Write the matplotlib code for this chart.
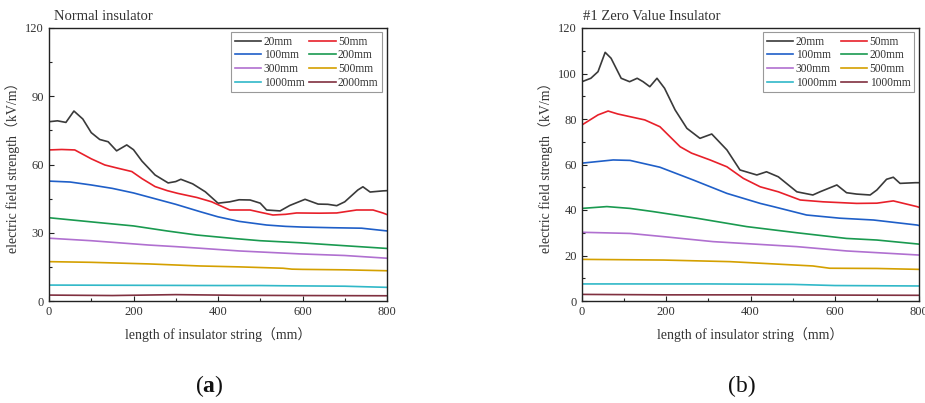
import matplotlib
matplotlib.use("Agg")
import matplotlib.pyplot as plt
from matplotlib.ticker import MultipleLocator

plt.rcParams['font.family'] = ['Liberation Serif', 'Noto Sans CJK SC']
plt.rcParams['mathtext.fontset'] = 'custom'
plt.rcParams['mathtext.rm'] = 'Liberation Serif'
plt.rcParams['mathtext.bf'] = 'Liberation Serif:bold'

labels_a = ["20mm", "50mm", "100mm", "200mm", "300mm", "500mm", "1000mm", "2000mm"]
labels_b = ["20mm", "50mm", "100mm", "200mm", "300mm", "500mm", "1000mm", "1000mm"]
colors = ['#3a3a3a', '#e8202a', '#1f5fc8', '#1a9a50', '#b070d0', '#d4a000', '#30b8c8', '#803040']

# ---- (a) Normal insulator ----
a20_x = [0, 20, 40, 59, 80, 100, 120, 140, 160, 184, 200, 220, 251, 282, 300, 312, 340, 370, 400, 428, 450, 476, 500, 515, 547, 570, 606, 637, 660, 681, 700, 731, 743, 760, 790, 800]
a20_y = [78.8, 79.2, 78.5, 83.5, 80, 74, 71, 70, 66, 68.6, 66.5, 61.5, 55.4, 51.9, 52.5, 53.5, 51.5, 48, 43, 43.6, 44.5, 44.4, 43, 40, 39.6, 42, 44.7, 42.6, 42.5, 41.9, 43.6, 48.8, 50.2, 47.9, 48.4, 48.5]
a50_x = [0, 30, 61, 100, 132, 160, 196, 220, 251, 280, 305, 350, 385, 428, 476, 500, 530, 560, 586, 640, 681, 728, 767, 790, 800]
a50_y = [66.4, 66.6, 66.4, 62.5, 59.8, 58.5, 56.9, 53.8, 50.3, 48.5, 47.3, 45.5, 43.6, 40, 40, 39, 37.8, 38.1, 38.7, 38.6, 38.7, 40, 40, 38.7, 38]
a100_x = [0, 50, 100, 150, 200, 250, 300, 357, 400, 450, 515, 560, 600, 673, 740, 795, 800]
a100_y = [52.7, 52.3, 51, 49.5, 47.5, 45, 42.5, 39.3, 37, 35, 33.4, 32.8, 32.5, 32.2, 32, 30.9, 30.8]
a200_x = [0, 121, 200, 279, 350, 436, 500, 594, 700, 800]
a200_y = [36.6, 34.4, 33, 30.8, 29, 27.5, 26.5, 25.6, 24.3, 23.1]
a300_x = [0, 100, 236, 300, 357, 450, 594, 700, 800]
a300_y = [27.6, 26.5, 24.6, 23.9, 23.2, 22, 20.7, 20, 18.8]
a500_x = [0, 100, 236, 357, 450, 554, 575, 600, 700, 800]
a500_y = [17.3, 17, 16.3, 15.4, 15, 14.4, 14.0, 13.9, 13.7, 13.3]
a1000_x = [0, 200, 400, 500, 550, 700, 800]
a1000_y = [7.0, 6.9, 6.8, 6.8, 6.7, 6.5, 6.0]
a2000_x = [0, 150, 300, 450, 600, 800]
a2000_y = [2.6, 2.4, 2.8, 2.5, 2.4, 2.3]

# ---- (b) #1 Zero Value Insulator ----
b20_x = [0, 21, 38, 55, 69, 93, 113, 131, 145, 161, 178, 196, 221, 249, 280, 308, 344, 375, 415, 438, 466, 510, 548, 565, 605, 628, 652, 684, 700, 723, 739, 755, 791, 800]
b20_y = [96.4, 97.9, 100.8, 109.3, 106.7, 97.9, 96.4, 97.9, 96.4, 94.2, 97.9, 93.5, 84, 75.9, 71.5, 73.4, 66.4, 57.6, 55.4, 56.8, 54.6, 48, 46.6, 48, 51, 47.6, 47, 46.6, 48.8, 53.5, 54.4, 51.7, 52, 52]
b50_x = [0, 38, 62, 85, 149, 185, 233, 260, 304, 344, 383, 423, 466, 518, 572, 652, 700, 739, 795, 800]
b50_y = [77.4, 81.8, 83.5, 82.2, 79.6, 76.6, 67.8, 65, 62, 59, 53.9, 50.2, 48, 44.4, 43.6, 42.9, 43, 44, 41.5, 41.2]
b100_x = [0, 74, 114, 185, 264, 344, 423, 454, 533, 612, 692, 795, 800]
b100_y = [60.6, 62, 61.8, 58.8, 53.2, 47.3, 42.9, 41.5, 37.8, 36.4, 35.6, 33.4, 33.2]
b200_x = [0, 59, 114, 169, 272, 391, 510, 628, 700, 800]
b200_y = [40.7, 41.5, 40.7, 39.3, 36.4, 32.7, 30, 27.5, 26.8, 25]
b300_x = [0, 114, 193, 311, 510, 628, 800]
b300_y = [30.2, 29.7, 28.3, 26.1, 23.9, 22, 20.2]
b500_x = [0, 193, 351, 548, 588, 700, 800]
b500_y = [18.3, 18, 17.3, 15.4, 14.4, 14.3, 13.9]
b1000_x = [0, 300, 500, 600, 800]
b1000_y = [7.5, 7.5, 7.3, 6.8, 6.6]
b1000b_x = [0, 200, 400, 600, 800]
b1000b_y = [2.9, 2.7, 2.7, 2.6, 2.5]

series_a = [(a20_x, a20_y), (a50_x, a50_y), (a100_x, a100_y), (a200_x, a200_y),
            (a300_x, a300_y), (a500_x, a500_y), (a1000_x, a1000_y), (a2000_x, a2000_y)]
series_b = [(b20_x, b20_y), (b50_x, b50_y), (b100_x, b100_y), (b200_x, b200_y),
            (b300_x, b300_y), (b500_x, b500_y), (b1000_x, b1000_y), (b1000b_x, b1000b_y)]

fig = plt.figure(figsize=(9.25, 4.03), dpi=100)
ax_a = fig.add_axes([49/925, 102/403, 338/925, 273/403])
ax_b = fig.add_axes([582/925, 102/403, 337/925, 273/403])

text_col = '#333333'

def style(ax, title, ymajor, yminor, labels, series, title_x):
    lines = []
    for (xs, ys), c, lab in zip(series, colors, labels):
        ln, = ax.plot(xs, ys, color=c, lw=1.2, label=lab)
        lines.append(ln)
    ax.set_xlim(0, 800)
    ax.set_ylim(0, 120)
    ax.xaxis.set_major_locator(MultipleLocator(200))
    ax.xaxis.set_minor_locator(MultipleLocator(100))
    ax.yaxis.set_major_locator(MultipleLocator(ymajor))
    ax.yaxis.set_minor_locator(MultipleLocator(yminor))
    ax.tick_params(which='both', direction='in', labelsize=9, colors='#222222', labelcolor=text_col)
    ax.tick_params(which='major', length=3.5, width=0.8)
    ax.tick_params(which='minor', length=2, width=0.8)
    for s in ax.spines.values():
        s.set_linewidth(1.0)
        s.set_color('#222222')
    ax.set_xlabel("length of insulator string（mm）", fontsize=10, color=text_col, labelpad=7)
    ax.set_ylabel("electric field strength（kV/m）", fontsize=10, color=text_col, labelpad=4)
    ax.set_title(title, loc='left', fontsize=10.5, color=text_col, pad=6, x=title_x)
    order = [0, 2, 4, 6, 1, 3, 5, 7]
    leg = ax.legend([lines[i] for i in order], [labels[i] for i in order], ncol=2,
                    loc='upper right', fontsize=8.3, handlelength=2.3, columnspacing=0.4,
                    labelspacing=0.15, borderpad=0.3, handletextpad=0.2,
                    borderaxespad=0, fancybox=False, edgecolor='#999999', framealpha=1,
                    bbox_to_anchor=(0.985, 0.985))
    leg.get_frame().set_linewidth(0.8)
    for t in leg.get_texts():
        t.set_color(text_col)

style(ax_a, "Normal insulator", 30, 15, labels_a, series_a, 0.015)
style(ax_b, "#1 Zero Value Insulator", 20, 10, labels_b, series_b, 0.003)

fig.text(209/925, 1 - 386/403, r"($\mathbf{a}$)", fontsize=17, ha='center', va='center', color='#111111')
fig.text(742/925, 1 - 386/403, "(b)", fontsize=17, ha='center', va='center', color='#111111')

fig.savefig("out.png", dpi=100)
